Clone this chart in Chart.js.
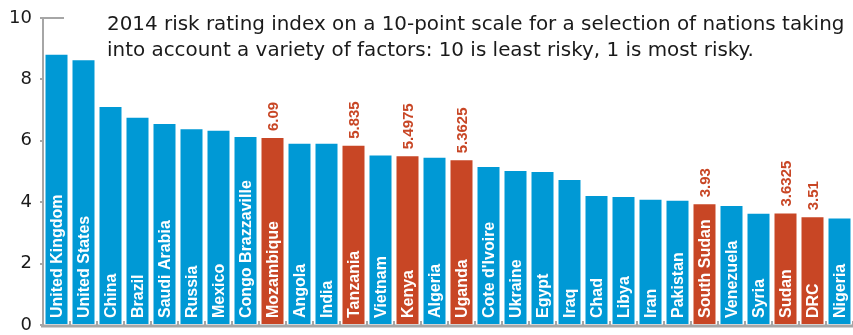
<!DOCTYPE html>
<html>
<head>
<meta charset="utf-8">
<script src="https://cdn.jsdelivr.net/npm/chart.js@4"></script>
<style>
  html, body { margin: 0; padding: 0; background: #fff; }
  #wrap { width: 853px; height: 335px; position: relative; }
</style>
</head>
<body>
<div id="wrap"><canvas id="riskChart"></canvas></div>
<script>
var countries = ["United Kingdom", "United States", "China", "Brazil", "Saudi Arabia", "Russia",
  "Mexico", "Congo Brazzaville", "Mozambique", "Angola", "India", "Tanzania", "Vietnam", "Kenya",
  "Algeria", "Uganda", "Cote d'Ivoire", "Ukraine", "Egypt", "Iraq", "Chad", "Libya", "Iran",
  "Pakistan", "South Sudan", "Venezuela", "Syria", "Sudan", "DRC", "Nigeria"];
var scores = [8.8, 8.62, 7.1, 6.75, 6.55, 6.38, 6.33, 6.12, 6.09, 5.9, 5.9, 5.835, 5.52, 5.4975,
  5.45, 5.3625, 5.15, 5.02, 4.98, 4.72, 4.2, 4.17, 4.08, 4.05, 3.93, 3.88, 3.62, 3.6325, 3.51, 3.47];
var highlighted = ["Mozambique", "Tanzania", "Kenya", "Uganda", "South Sudan", "Sudan", "DRC"];
var yTicks = [0, 2, 4, 6, 8, 10];
var note = ["2014 risk rating index on a 10-point scale for a selection of nations taking",
  "into account a variety of factors: 10 is least risky, 1 is most risky."];

var BLUE = "#0099d5";
var RED = "#c84625";
var GREY = "#a6a6a6";
var NOTE_WIDTH = 738;

var barColors = countries.map(function (c) {
  return highlighted.indexOf(c) >= 0 ? RED : BLUE;
});

// axis cap, baseline with separators, names inside bars, values above red bars
var decorations = {
  id: "decorations",
  afterDatasetsDraw: function (chart) {
    var ctx = chart.ctx;
    var area = chart.chartArea;
    var y = chart.scales.y;
    var x = chart.scales.x;
    var meta = chart.getDatasetMeta(0);
    var top = y.getPixelForValue(10);
    var base = y.getPixelForValue(0);

    ctx.save();
    ctx.strokeStyle = GREY;
    ctx.lineWidth = 2;
    ctx.beginPath();
    ctx.moveTo(area.left - 1, top);
    ctx.lineTo(area.left + 21, top);
    ctx.stroke();

    ctx.lineWidth = 3;
    ctx.beginPath();
    ctx.moveTo(area.left - 2, base + 1);
    ctx.lineTo(area.right, base + 1);
    ctx.stroke();

    ctx.lineWidth = 2;
    var step = (x.getPixelForValue(1) - x.getPixelForValue(0));
    for (var i = 0; i <= countries.length; i++) {
      var px = x.getPixelForValue(0) - step / 2 + i * step;
      ctx.beginPath();
      ctx.moveTo(px, base);
      ctx.lineTo(px, base - 4);
      ctx.stroke();
    }

    meta.data.forEach(function (bar, i) {
      ctx.save();
      ctx.translate(bar.x, base - 7);
      ctx.rotate(-Math.PI / 2);
      ctx.font = "bold 16px 'Liberation Sans', Arial, sans-serif";
      ctx.fillStyle = "#fff";
      ctx.textAlign = "left";
      ctx.textBaseline = "middle";
      ctx.fillText(countries[i], 0, 1);
      ctx.restore();

      if (highlighted.indexOf(countries[i]) >= 0) {
        ctx.save();
        ctx.translate(bar.x, bar.y - 7);
        ctx.rotate(-Math.PI / 2);
        ctx.font = "bold 15px 'Liberation Sans', Arial, sans-serif";
        ctx.fillStyle = RED;
        ctx.textAlign = "left";
        ctx.textBaseline = "middle";
        ctx.fillText(String(scores[i]), 0, 1);
        ctx.restore();
      }
    });

    // note text, sized so the first line spans the same width as the plot's top row
    var size = 18;
    ctx.font = size + "px 'DejaVu Sans', sans-serif";
    size = size * NOTE_WIDTH / ctx.measureText(note[0]).width;
    ctx.font = size.toFixed(2) + "px 'DejaVu Sans', sans-serif";
    ctx.fillStyle = "#1a1a1a";
    ctx.textAlign = "left";
    ctx.textBaseline = "alphabetic";
    ctx.fillText(note[0], 107, 30);
    ctx.fillText(note[1], 107, 56);
    ctx.restore();
  }
};

new Chart(document.getElementById("riskChart"), {
  type: "bar",
  data: {
    labels: countries,
    datasets: [{
      data: scores,
      backgroundColor: barColors,
      borderWidth: 0,
      barPercentage: 0.815,
      categoryPercentage: 1
    }]
  },
  options: {
    responsive: true,
    maintainAspectRatio: false,
    animation: false,
    layout: { padding: { top: 18, right: 0, bottom: 10, left: 0 } },
    plugins: {
      legend: { display: false },
      tooltip: { enabled: false }
    },
    scales: {
      x: { display: false },
      y: {
        min: 0,
        max: 10,
        afterFit: function (scale) {
          scale.width = 43;
          scale.paddingTop = 0;
          scale.paddingBottom = 0;
        },
        afterBuildTicks: function (scale) {
          scale.ticks = yTicks.map(function (v) { return { value: v }; });
        },
        border: { display: true, color: GREY, width: 2 },
        grid: { display: true, drawOnChartArea: false, color: GREY, tickLength: 3, lineWidth: 2 },
        ticks: {
          padding: 8,
          color: "#1a1a1a",
          font: { family: "'DejaVu Sans', sans-serif", size: 18 }
        }
      }
    }
  },
  plugins: [decorations]
});
</script>
</body>
</html>
